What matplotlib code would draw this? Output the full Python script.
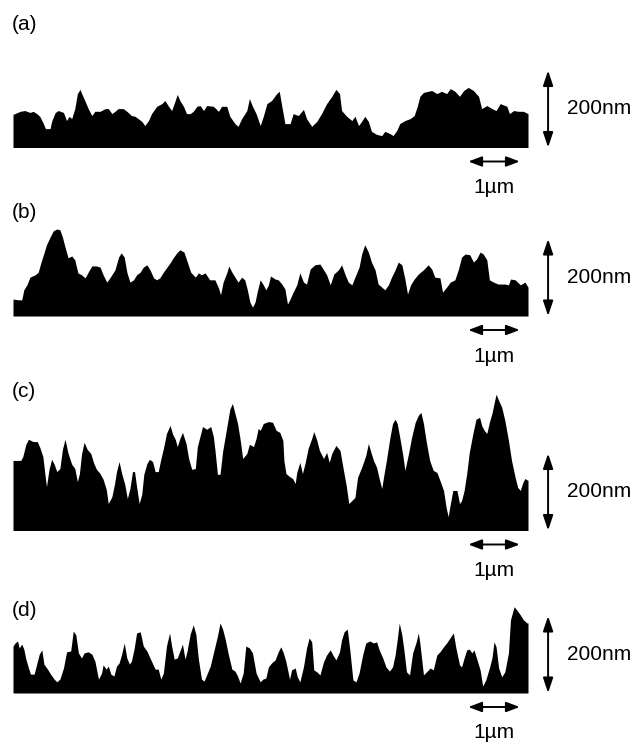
import matplotlib
matplotlib.use('Agg')
import matplotlib.pyplot as plt

plt.rcParams['font.family'] = ['Liberation Sans', 'DejaVu Sans']

# --- Surface height profiles, position (um) vs height (nm) ---
A_X = [0.0, 0.14, 0.23, 0.33, 0.39, 0.46, 0.52, 0.59, 0.63, 0.72, 0.75, 0.82, 0.88, 0.98, 1.04, 1.09, 1.14,
       1.20, 1.25, 1.30, 1.35, 1.40, 1.46, 1.53, 1.59, 1.69, 1.79, 1.85, 1.92, 1.98, 2.04, 2.14, 2.21, 2.30,
       2.37, 2.43, 2.50, 2.56, 2.63, 2.69, 2.79, 2.89, 2.95, 3.02, 3.08, 3.15, 3.19, 3.24, 3.31, 3.37, 3.44,
       3.50, 3.57, 3.63, 3.70, 3.76, 3.89, 3.99, 4.05, 4.15, 4.21, 4.31, 4.37, 4.44, 4.54, 4.59, 4.65, 4.72,
       4.80, 4.86, 4.93, 5.02, 5.12, 5.17, 5.22, 5.28, 5.38, 5.44, 5.54, 5.64, 5.70, 5.80, 5.90, 5.99, 6.09,
       6.19, 6.27, 6.34, 6.38, 6.48, 6.58, 6.64, 6.71, 6.77, 6.83, 6.90, 6.96, 7.06, 7.16, 7.22, 7.32, 7.38,
       7.45, 7.51, 7.61, 7.71, 7.79, 7.85, 7.90, 7.97, 8.06, 8.13, 8.23, 8.32, 8.42, 8.49, 8.58, 8.67, 8.75,
       8.84, 8.94, 9.04, 9.10, 9.20, 9.30, 9.38, 9.46, 9.59, 9.64, 9.72, 9.81, 9.91, 10.0]
A_H = [86, 94, 96, 91, 94, 88, 81, 62, 49, 49, 68, 91, 96, 91, 70, 81, 75,
       101, 140, 151, 135, 120, 101, 83, 94, 94, 101, 101, 88, 94, 101, 101, 94, 83,
       81, 75, 68, 57, 70, 88, 107, 114, 122, 107, 96, 122, 138, 122, 107, 88, 88,
       94, 107, 109, 96, 109, 107, 94, 107, 107, 81, 62, 55, 75, 96, 127, 107, 88,
       57, 81, 114, 122, 140, 146, 107, 62, 62, 88, 83, 99, 75, 55, 68, 88, 114,
       133, 151, 140, 96, 81, 70, 81, 57, 68, 81, 68, 42, 34, 31, 42, 36, 31,
       44, 62, 70, 75, 83, 107, 133, 143, 146, 148, 140, 146, 140, 153, 146, 133, 148,
       156, 148, 133, 101, 109, 101, 96, 114, 107, 88, 96, 94, 94, 88]

B_X = [0.0, 0.10, 0.17, 0.21, 0.27, 0.33, 0.43, 0.49, 0.54, 0.59, 0.65, 0.72, 0.78, 0.85, 0.91,
       0.96, 1.01, 1.07, 1.14, 1.20, 1.26, 1.33, 1.40, 1.46, 1.53, 1.62, 1.69, 1.75, 1.82, 1.88,
       1.98, 2.05, 2.10, 2.16, 2.21, 2.27, 2.34, 2.40, 2.47, 2.53, 2.60, 2.66, 2.73, 2.79, 2.85,
       2.92, 2.98, 3.05, 3.11, 3.18, 3.24, 3.32, 3.39, 3.45, 3.54, 3.60, 3.66, 3.73, 3.82, 3.92,
       3.99, 4.03, 4.08, 4.15, 4.19, 4.25, 4.31, 4.37, 4.44, 4.50, 4.55, 4.60, 4.65, 4.70, 4.74,
       4.80, 4.86, 4.91, 4.96, 5.00, 5.09, 5.15, 5.22, 5.28, 5.33, 5.38, 5.44, 5.51, 5.57, 5.64,
       5.70, 5.77, 5.86, 5.96, 6.03, 6.09, 6.16, 6.23, 6.32, 6.38, 6.45, 6.51, 6.58, 6.64, 6.72,
       6.77, 6.83, 6.90, 6.96, 7.03, 7.09, 7.16, 7.22, 7.29, 7.35, 7.42, 7.48, 7.55, 7.61, 7.66,
       7.72, 7.79, 7.87, 7.97, 8.06, 8.13, 8.19, 8.29, 8.34, 8.42, 8.49, 8.58, 8.65, 8.71, 8.78,
       8.87, 8.94, 9.00, 9.07, 9.13, 9.20, 9.25, 9.33, 9.42, 9.55, 9.62, 9.66, 9.75, 9.85, 9.94, 10.0]
B_H = [44, 42, 42, 68, 81, 101, 107, 114, 138, 159, 185, 205, 221, 226, 224,
       205, 179, 151, 156, 146, 112, 107, 99, 114, 130, 130, 127, 107, 88, 99,
       120, 153, 164, 153, 114, 88, 94, 107, 114, 127, 133, 120, 99, 94, 99,
       114, 125, 138, 151, 164, 172, 166, 138, 114, 101, 112, 107, 112, 94, 94,
       73, 55, 88, 112, 130, 114, 101, 88, 101, 94, 68, 36, 23, 36, 62,
       94, 81, 68, 81, 104, 96, 94, 83, 70, 31, 44, 62, 81, 112, 88,
       83, 122, 133, 135, 120, 107, 81, 109, 120, 133, 107, 88, 81, 101, 127,
       161, 185, 166, 140, 120, 83, 75, 68, 81, 101, 120, 140, 133, 96, 57,
       81, 96, 109, 120, 133, 122, 101, 99, 62, 75, 88, 94, 122, 153, 161,
       159, 140, 148, 166, 161, 146, 94, 88, 83, 83, 81, 96, 94, 81, 88, 75]

C_X = [0.0, 0.15, 0.19, 0.25, 0.30, 0.39, 0.47, 0.52, 0.58, 0.62, 0.65, 0.70, 0.75, 0.80, 0.85,
       0.91, 0.96, 1.01, 1.07, 1.14, 1.20, 1.25, 1.29, 1.33, 1.38, 1.44, 1.51, 1.57, 1.62, 1.69,
       1.75, 1.81, 1.85, 1.92, 1.97, 2.01, 2.06, 2.11, 2.17, 2.22, 2.27, 2.32, 2.36, 2.40, 2.45,
       2.50, 2.54, 2.60, 2.65, 2.71, 2.76, 2.82, 2.87, 2.92, 2.98, 3.05, 3.10, 3.15, 3.19, 3.24,
       3.29, 3.36, 3.41, 3.47, 3.54, 3.58, 3.63, 3.68, 3.76, 3.84, 3.89, 3.92, 3.97, 4.02, 4.07,
       4.12, 4.17, 4.21, 4.26, 4.31, 4.36, 4.41, 4.46, 4.54, 4.59, 4.67, 4.72, 4.76,
       4.80, 4.86, 4.96, 5.04, 5.11, 5.18, 5.24, 5.26, 5.30, 5.37, 5.43, 5.48, 5.51, 5.57, 5.62,
       5.67, 5.73, 5.80, 5.84, 5.90, 5.95, 6.03, 6.09, 6.14, 6.19, 6.27, 6.35, 6.40, 6.47, 6.52,
       6.58, 6.64, 6.69, 6.77, 6.85, 6.90, 6.95, 7.00, 7.06, 7.11, 7.16, 7.20, 7.25, 7.32, 7.37,
       7.42, 7.46, 7.51, 7.57, 7.61, 7.68, 7.74, 7.81, 7.87, 7.92, 7.97, 8.02, 8.09, 8.16, 8.23,
       8.29, 8.36, 8.41, 8.45, 8.48, 8.54, 8.62, 8.67, 8.71, 8.76, 8.81, 8.86, 8.93, 8.99, 9.06,
       9.10, 9.15, 9.20, 9.25, 9.30, 9.34, 9.38, 9.43, 9.49, 9.55, 9.62, 9.68, 9.75, 9.80, 9.85,
       9.90, 9.94, 10.0]
C_H = [182, 182, 192, 224, 237, 231, 231, 216, 192, 146, 114, 159, 185, 172, 153,
       161, 211, 237, 200, 172, 161, 127, 148, 198, 229, 211, 200, 174, 159, 148,
       133, 107, 70, 88, 120, 153, 179, 148, 120, 83, 109, 153, 153, 114, 70,
       94, 146, 174, 185, 179, 153, 153, 185, 213, 252, 273, 250, 237, 218, 239,
       255, 226, 187, 159, 161, 218, 244, 270, 263, 270, 244, 211, 146, 146, 205,
       244, 283, 315, 330, 304, 278, 237, 187, 200, 224, 218, 239, 265,
       260, 278, 283, 281, 260, 255, 234, 182, 148, 140, 135, 122, 151, 177, 148,
       174, 213, 239, 257, 234, 208, 187, 203, 177, 200, 221, 208, 169, 117, 70,
       78, 86, 138, 164, 195, 226, 203, 182, 164, 135, 109, 143, 182, 242, 278,
       289, 278, 242, 195, 156, 200, 242, 281, 299, 307, 278, 234, 182, 156, 151,
       130, 104, 60, 36, 60, 104, 104, 70, 78, 104, 148, 203, 252, 289, 294,
       273, 260, 252, 281, 304, 330, 354, 338, 320, 286, 234, 182, 138, 112, 104,
       125, 135, 130]

D_X = [0.0, 0.04, 0.09, 0.12, 0.17, 0.21, 0.25, 0.30, 0.34, 0.41, 0.46, 0.51, 0.56, 0.60, 0.67,
       0.73, 0.80, 0.85, 0.91, 0.98, 1.04, 1.12, 1.17, 1.22, 1.27, 1.33, 1.38, 1.46, 1.53, 1.59,
       1.66, 1.72, 1.75, 1.81, 1.85, 1.90, 1.96, 2.01, 2.06, 2.11, 2.16, 2.21, 2.26, 2.30, 2.35,
       2.40, 2.47, 2.53, 2.60, 2.67, 2.76, 2.82, 2.87, 2.92, 2.98, 3.04, 3.08, 3.13, 3.19, 3.24,
       3.29, 3.34, 3.38, 3.44, 3.50, 3.55, 3.60, 3.66, 3.71, 3.76, 3.83, 3.90, 3.97, 4.02, 4.07,
       4.12, 4.18, 4.25, 4.31, 4.36, 4.41, 4.47, 4.52, 4.59, 4.65, 4.72,
       4.80, 4.85, 4.91, 4.96, 5.02, 5.09, 5.15, 5.20, 5.25, 5.30, 5.37, 5.41, 5.48, 5.52, 5.57,
       5.64, 5.70, 5.75, 5.80, 5.84, 5.90, 5.96, 6.03, 6.09, 6.16, 6.21, 6.27, 6.34, 6.38, 6.43,
       6.49, 6.54, 6.60, 6.66, 6.72, 6.79, 6.85, 6.93, 7.00, 7.06, 7.11, 7.18, 7.24, 7.31, 7.37,
       7.42, 7.46, 7.50, 7.55, 7.59, 7.64, 7.70, 7.76, 7.83, 7.87, 7.90, 7.97, 8.03, 8.10, 8.16,
       8.23, 8.29, 8.36, 8.42, 8.50, 8.55, 8.60, 8.67, 8.71, 8.76, 8.81, 8.86, 8.91, 8.95, 9.00,
       9.07, 9.12, 9.18, 9.25, 9.30, 9.34, 9.38, 9.43, 9.49, 9.55, 9.62, 9.66, 9.73, 9.78, 9.85,
       9.91, 9.98, 10.0]
D_H = [122, 130, 135, 117, 127, 114, 88, 65, 49, 49, 75, 101, 112, 75, 62,
       49, 36, 29, 36, 65, 107, 109, 161, 151, 104, 91, 104, 107, 101, 83,
       36, 52, 73, 62, 70, 49, 44, 70, 78, 101, 130, 91, 75, 83, 114,
       156, 159, 122, 109, 88, 62, 62, 36, 52, 122, 156, 122, 88, 91, 109,
       127, 88, 109, 153, 177, 153, 88, 36, 31, 47, 70, 109, 148, 182, 166,
       140, 101, 62, 57, 44, 26, 52, 122, 117, 104, 52,
       29, 36, 39, 68, 78, 86, 107, 120, 104, 81, 36, 60, 65, 42, 29,
       68, 117, 143, 133, 60, 55, 47, 81, 99, 112, 99, 86, 107, 138, 159,
       166, 112, 34, 29, 52, 99, 130, 135, 130, 133, 112, 91, 68, 57, 68,
       99, 138, 182, 151, 112, 55, 47, 104, 133, 156, 130, 47, 55, 65, 60,
       99, 107, 120, 130, 146, 156, 117, 73, 68, 91, 112, 114, 104, 112, 91,
       60, 18, 34, 65, 91, 133, 120, 65, 42, 55, 104, 190, 224, 216, 203,
       190, 182, 182]

LABELS = ['(a)', '(b)', '(c)', '(d)']
PROFILES = [(A_X, A_H), (B_X, B_H), (C_X, C_H), (D_X, D_H)]
SCALE_NM = 200
SCALE_UM = 1.0

# --- layout (pixels on the 634x746 canvas) ---
W, H = 634, 746
PX_PER_UM = 51.5
PX_PER_NM = 77 / 200
X0_PX = 13
# baseline, axes top, axes bottom, label height above baseline
PANELS = [(147.5, 0, 200, 123), (316, 200, 370, 103), (530.5, 370, 585, 139), (693, 585, 746, 83)]

fig = plt.figure(figsize=(W / 100, H / 100), dpi=100)

for (xs, hs), label, (base, top, bot, lab) in zip(PROFILES, LABELS, PANELS):
    ax = fig.add_axes([0, 1 - bot / H, 1, (bot - top) / H])
    ax.set_xlim(-X0_PX / PX_PER_UM, (W - X0_PX) / PX_PER_UM)
    ax.set_ylim((base - bot) / PX_PER_NM, (base - top) / PX_PER_NM)
    ax.axis('off')

    ax.fill_between(xs, 0, hs, color='black', linewidth=0)

    ax.text(-0.02, lab / PX_PER_NM, label, fontsize=15, ha='left', va='center')

    # vertical scale bar
    xv = 10.39
    ax.annotate('', xy=(xv, SCALE_NM), xytext=(xv, 0),
                arrowprops=dict(arrowstyle='<|-|>,head_length=0.9,head_width=0.3',
                                color='black', lw=1.4, shrinkA=0, shrinkB=0))
    ax.text(10.76, SCALE_NM / 2, '200nm', fontsize=15, ha='left', va='center')

    # horizontal scale bar
    yh = -14 / PX_PER_NM
    x1 = 9.84
    ax.annotate('', xy=(x1, yh), xytext=(x1 - SCALE_UM, yh),
                arrowprops=dict(arrowstyle='<|-|>,head_length=0.8,head_width=0.3',
                                color='black', lw=1.4, shrinkA=0, shrinkB=0))
    ax.text(x1 - SCALE_UM / 2, -40 / PX_PER_NM, '1\u00b5m', fontsize=15, ha='center', va='center')

fig.savefig('out.png', dpi=100)
